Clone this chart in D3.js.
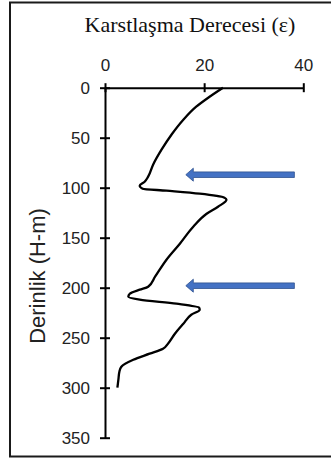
<!DOCTYPE html>
<html>
<head>
<meta charset="utf-8">
<script src="https://cdn.jsdelivr.net/npm/d3@7/dist/d3.min.js"></script>
<style>
  html, body { margin: 0; padding: 0; background: #fff; }
  svg { display: block; }
</style>
</head>
<body>
<script>
// ---- data ----
const depth = [0, 9, 19, 32, 47, 62, 77, 89, 94, 98, 101, 103, 106, 110, 112, 119, 126, 139, 156, 172, 189, 199, 202, 206, 209, 212, 216, 220, 222, 227, 236, 246, 256, 261, 266, 272, 279, 284, 292, 300];
const karst = [23.8, 21.1, 18.4, 15.8, 13.4, 11.4, 9.7, 8.7, 8.0, 7.0, 7.6, 12.4, 19.1, 24.1, 24.5, 22.8, 20.5, 17.8, 15.1, 12.4, 10.1, 8.7, 7.0, 5.0, 4.7, 7.0, 14.4, 19.0, 19.1, 17.4, 15.8, 14.1, 12.7, 11.7, 9.0, 5.7, 3.3, 2.9, 2.7, 2.5];
const xTicks = [0, 20, 40];
const yTicks = [0, 50, 100, 150, 200, 250, 300, 350];
const arrowDepths = [87, 198];
const arrowFrom = 38.2;   // tail (karst units)
const arrowTo = 16.3;     // tip (karst units)
const titleText = "Karstlaşma Derecesi (ε)";
const yLabelText = "Derinlik (H-m)";

const W = 331, H = 460;
const svg = d3.select("body").append("svg").attr("width", W).attr("height", H);

// border
svg.append("rect").attr("x", 10).attr("y", 2.5).attr("width", 330).attr("height", 454)
  .attr("fill", "none").attr("stroke", "#1a1a1a").attr("stroke-width", 2);

const x = d3.scaleLinear().domain([0, 40]).range([105, 303.3]);
const y = d3.scaleLinear().domain([0, 350]).range([87.7, 437.7]);

// title
svg.append("text").attr("x", 190).attr("y", 32)
  .attr("text-anchor", "middle")
  .attr("font-family", "'Liberation Serif', 'Times New Roman', serif")
  .attr("font-size", 22).attr("fill", "#111").text(titleText);

// top axis
const gx = svg.append("g").attr("transform", `translate(0,${y(0)})`)
  .call(d3.axisTop(x).tickValues(xTicks).tickSize(0).tickPadding(0).tickFormat(d3.format("d")));
gx.select(".domain").attr("stroke", "#000").attr("stroke-width", 2);
gx.selectAll(".tick line").attr("y1", -4.5).attr("y2", 4.5).attr("stroke", "#000").attr("stroke-width", 2);
gx.selectAll(".tick text").attr("y", -17).attr("dy", 0)
  .attr("font-family", "'Liberation Sans', Arial, sans-serif").attr("font-size", 17).attr("fill", "#222");

// left axis
const gy = svg.append("g").attr("transform", `translate(${x(0)},0)`)
  .call(d3.axisLeft(y).tickValues(yTicks).tickSize(0).tickPadding(0).tickFormat(d3.format("d")));
gy.select(".domain").attr("stroke", "#000").attr("stroke-width", 2);
gy.selectAll(".tick line").attr("x1", -5).attr("x2", 5).attr("stroke", "#000").attr("stroke-width", 2);
gy.selectAll(".tick text").attr("x", -15).attr("dy", "0.35em")
  .attr("font-family", "'Liberation Sans', Arial, sans-serif").attr("font-size", 17).attr("fill", "#222");

// y label
svg.append("text").attr("transform", `translate(45,${276}) rotate(-90)`)
  .attr("text-anchor", "middle")
  .attr("font-family", "'Liberation Sans', Arial, sans-serif")
  .attr("font-size", 22).attr("fill", "#222").text(yLabelText);

// curve
const pts = depth.map((d, i) => [karst[i], d]);
const line = d3.line().x(d => x(d[0])).y(d => y(d[1])).curve(d3.curveMonotoneY);
svg.append("path").attr("d", line(pts)).attr("fill", "none")
  .attr("stroke", "#000").attr("stroke-width", 2.3).attr("stroke-linejoin", "round");

// arrows
arrowDepths.forEach(dp => {
  const cy = y(dp), tip = x(arrowTo), tail = x(arrowFrom);
  const sh = 2.8, hh = 6.5, hl = 7.5;
  const p = [[tip, cy], [tip + hl, cy - hh], [tip + hl, cy - sh], [tail, cy - sh], [tail, cy + sh], [tip + hl, cy + sh], [tip + hl, cy + hh]];
  svg.append("path").attr("d", "M" + p.map(q => q.join(",")).join("L") + "Z")
    .attr("fill", "#4472C4").attr("stroke", "#2F528F").attr("stroke-width", 0.8);
});
</script>
</body>
</html>
